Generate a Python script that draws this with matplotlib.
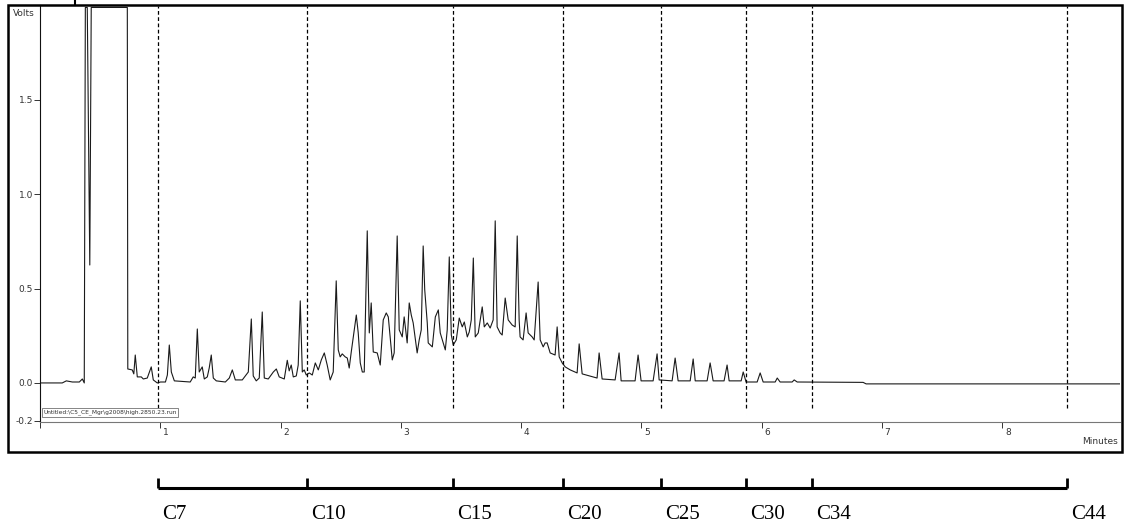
import matplotlib.pyplot as plt
import matplotlib.transforms as mtransforms
from matplotlib.patches import Rectangle
from matplotlib.lines import Line2D

# detector trace: retention time (min) and signal (V)
time_min = [
	0.000, 0.185, 0.219, 0.269, 0.327, 0.352, 0.368, 0.377, 0.393, 0.414, 0.426, 0.726,
	0.730, 0.767, 0.780, 0.792, 0.809, 0.842, 0.859, 0.892, 0.925, 0.942, 0.975,
	1.002, 1.043, 1.059, 1.075, 1.092, 1.117, 1.249, 1.274, 1.291, 1.308, 1.324, 1.349,
	1.366, 1.391, 1.407, 1.424, 1.441, 1.466, 1.541, 1.574, 1.599, 1.624, 1.682, 1.707,
	1.732, 1.757, 1.773, 1.798, 1.823, 1.848, 1.865, 1.898, 1.940, 1.965, 1.989, 2.031,
	2.056, 2.072, 2.089, 2.106, 2.131, 2.147, 2.164, 2.181, 2.197, 2.214,
	2.239, 2.264, 2.289, 2.314, 2.339, 2.364, 2.388, 2.413, 2.438, 2.463, 2.480, 2.496,
	2.513, 2.538, 2.555, 2.571, 2.588, 2.605, 2.630, 2.646, 2.663, 2.680, 2.696, 2.721,
	2.738, 2.754, 2.771, 2.804, 2.829, 2.854, 2.879, 2.896, 2.929, 2.945, 2.970, 2.987,
	3.012, 3.028, 3.053, 3.070, 3.087, 3.103, 3.136, 3.153, 3.170, 3.186, 3.199, 3.220,
	3.228, 3.262, 3.287, 3.312, 3.328, 3.370, 3.386, 3.403, 3.420, 3.436,
	3.461, 3.486, 3.511, 3.528, 3.553, 3.569, 3.586, 3.603, 3.619, 3.644, 3.677, 3.694,
	3.719, 3.743, 3.768, 3.785, 3.801, 3.826, 3.843, 3.868, 3.893, 3.926, 3.951, 3.968,
	3.984, 3.992, 4.017, 4.042, 4.059, 4.092, 4.109, 4.142, 4.159, 4.184, 4.200, 4.217,
	4.242, 4.283, 4.300, 4.317, 4.342,
	4.367, 4.409, 4.466, 4.483, 4.508, 4.600, 4.632, 4.649, 4.674, 4.782, 4.815, 4.832,
	4.948, 4.973, 4.998, 5.098, 5.131, 5.148, 5.256, 5.281, 5.306, 5.406, 5.431, 5.448,
	5.547, 5.572, 5.597, 5.688, 5.713, 5.730, 5.830, 5.847, 5.871, 5.963, 5.988, 6.013,
	6.113, 6.130, 6.154, 6.254, 6.271, 6.296, 6.844, 6.869, 8.988,
]
volts = [
	0.000, 0.000, 0.011, 0.005, 0.005, 0.021, 0.000, 1.990, 1.990, 0.625, 1.990, 1.990,
	0.074, 0.069, 0.048, 0.148, 0.032, 0.032, 0.021, 0.026, 0.085, 0.016, 0.000,
	0.005, 0.005, 0.042, 0.201, 0.058, 0.011, 0.005, 0.032, 0.026, 0.286, 0.058, 0.085,
	0.021, 0.032, 0.079, 0.148, 0.026, 0.011, 0.005, 0.026, 0.069, 0.016, 0.016, 0.037,
	0.058, 0.339, 0.037, 0.011, 0.026, 0.376, 0.026, 0.021, 0.058, 0.074, 0.032, 0.021,
	0.120, 0.064, 0.095, 0.032, 0.037, 0.095, 0.435, 0.058, 0.069, 0.042,
	0.053, 0.042, 0.106, 0.069, 0.122, 0.159, 0.095, 0.016, 0.058, 0.541, 0.175, 0.138,
	0.154, 0.138, 0.132, 0.079, 0.164, 0.244, 0.360, 0.265, 0.106, 0.058, 0.058, 0.806,
	0.265, 0.424, 0.164, 0.159, 0.095, 0.334, 0.371, 0.350, 0.122, 0.159, 0.779, 0.281,
	0.244, 0.350, 0.212, 0.424, 0.360, 0.318, 0.159, 0.228, 0.281, 0.726, 0.493, 0.318,
	0.212, 0.191, 0.350, 0.387, 0.265, 0.175, 0.281, 0.668, 0.254, 0.201,
	0.228, 0.344, 0.297, 0.323, 0.244, 0.270, 0.334, 0.662, 0.244, 0.265, 0.403, 0.297,
	0.318, 0.291, 0.334, 0.859, 0.297, 0.265, 0.254, 0.450, 0.334, 0.307, 0.297, 0.779,
	0.334, 0.244, 0.228, 0.371, 0.265, 0.244, 0.228, 0.535, 0.228, 0.191, 0.212, 0.212,
	0.159, 0.148, 0.297, 0.138, 0.106,
	0.085, 0.069, 0.053, 0.207, 0.048, 0.032, 0.026, 0.159, 0.021, 0.016, 0.159, 0.011,
	0.011, 0.148, 0.011, 0.011, 0.154, 0.016, 0.011, 0.132, 0.011, 0.011, 0.127, 0.011,
	0.011, 0.106, 0.011, 0.011, 0.095, 0.011, 0.011, 0.058, 0.005, 0.005, 0.053, 0.005,
	0.005, 0.026, 0.005, 0.005, 0.016, 0.005, 0.003, -0.005, -0.005,
]

# n-alkane retention markers
carbon_labels = ['C7', 'C10', 'C15', 'C20', 'C25', 'C30', 'C34', 'C44']
carbon_times = [0.978, 2.220, 3.433, 4.346, 5.161, 5.870, 6.420, 8.537]

x_ticks = [0, 1, 2, 3, 4, 5, 6, 7, 8]
x_tick_labels = ['', '1', '2', '3', '4', '5', '6', '7', '8']
y_ticks = [-0.2, 0.0, 0.5, 1.0, 1.5]
y_tick_labels = ['-0.2', '0.0', '0.5', '1.0', '1.5']

run_file = 'Untitled:\\C5_CE_Mgr\\g2008\\high.2850.23.run'

W, H = 1124.0, 524.0
fig = plt.figure(figsize=(11.24, 5.24), dpi=100)

ax = fig.add_axes([40 / W, 1 - 422 / H, 1080 / W, 417 / H])
ax.plot(time_min, volts, color='#1a1a1a', lw=0.8)
ax.vlines(carbon_times, -0.135, 2.0, colors='black', linestyles=(0, (3, 2)), lw=0.9)
ax.set_xlim(0.0, 8.98)
ax.set_ylim(-0.207, 2.003)

ax.spines['top'].set_visible(False)
ax.spines['right'].set_visible(False)
ax.spines['left'].set_color('#111111')
ax.spines['left'].set_linewidth(0.8)
ax.spines['bottom'].set_color('#777777')
ax.spines['bottom'].set_linewidth(0.8)

ax.set_xticks(x_ticks)
ax.set_xticklabels(x_tick_labels)
ax.set_yticks(y_ticks)
ax.set_yticklabels(y_tick_labels)
ax.tick_params(axis='both', direction='out', length=4, width=0.7,
	labelsize=6.5, colors='#333333')
ax.tick_params(axis='x', pad=0.5)
ax.tick_params(axis='y', pad=1)
shift = mtransforms.ScaledTranslation(2 / 72, 0, fig.dpi_scale_trans)
for lab in ax.get_xticklabels():
	lab.set_horizontalalignment('left')
	lab.set_transform(lab.get_transform() + shift)

ax.text(0.003, 0.023, run_file, transform=ax.transAxes, fontsize=4.2,
	ha='left', va='center', color='#333333',
	bbox=dict(boxstyle='square,pad=0.25', fc='white', ec='#555555', lw=0.5))

fig.text(13 / W, 1 - 14 / H, 'Volts', fontsize=6.5, ha='left', va='center', color='#333333')
fig.text(1118 / W, 1 - 442 / H, 'Minutes', fontsize=6.5, ha='right', va='center', color='#333333')

# outer window frame
fig.add_artist(Rectangle((8 / W, 1 - 452 / H), 1114 / W, 447 / H, transform=fig.transFigure,
	fill=False, ec='black', lw=1.8, zorder=5))
fig.add_artist(Line2D([75 / W, 75 / W], [1.0, 1 - 5 / H], transform=fig.transFigure,
	color='black', lw=1.5))

# carbon number scale below the chromatogram
axb = fig.add_axes([40 / W, 0, 1080 / W, 50 / H])
axb.set_xlim(0.0, 8.98)
axb.set_ylim(0, 1)
axb.axis('off')
axb.plot([carbon_times[0], carbon_times[-1]], [0.72, 0.72], color='black', lw=2.2,
	solid_capstyle='butt', clip_on=False)
axb.vlines(carbon_times, 0.72, 0.92, colors='black', lw=2.0, clip_on=False)
lab_shift = mtransforms.ScaledTranslation(3 / 72, 0, fig.dpi_scale_trans)
for t, name in zip(carbon_times, carbon_labels):
	axb.text(t, 0.1, name, fontsize=15, family='Liberation Serif', ha='left', va='baseline',
		transform=axb.transData + lab_shift, clip_on=False)

fig.savefig('out.png', dpi=100)
